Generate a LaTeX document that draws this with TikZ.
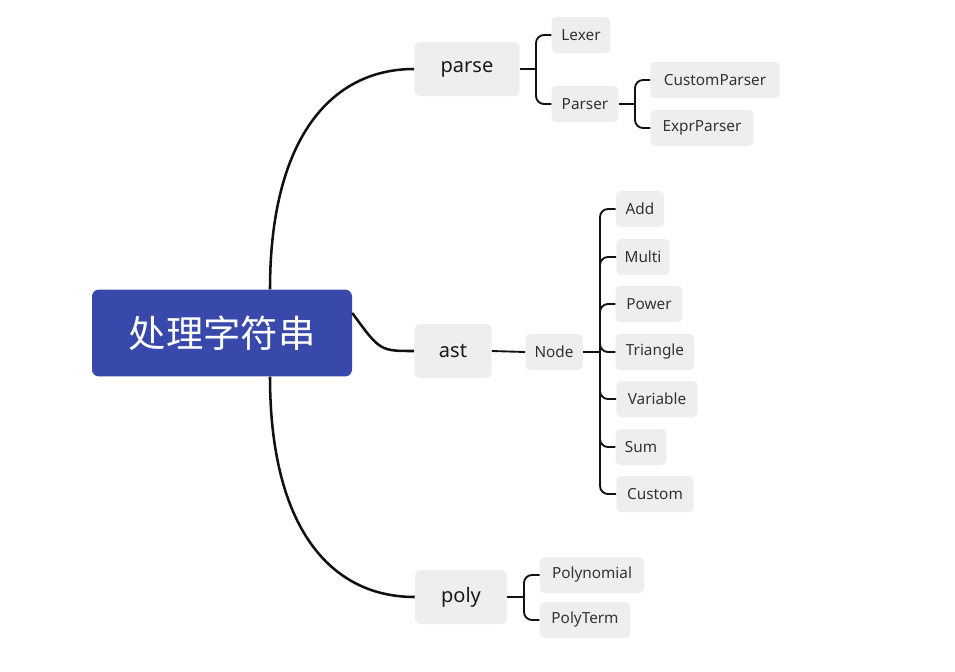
\documentclass[tikz,border=0pt]{standalone}
\usepackage{fontspec}
\setmainfont{Noto Sans}
\newfontfamily\cjk{Noto Sans CJK SC}
\usetikzlibrary{positioning}
\definecolor{rootblue}{RGB}{57,73,171}
\definecolor{leafgray}{RGB}{238,238,238}
\definecolor{linegray}{RGB}{17,17,17}
\tikzset{
  topic/.style={fill=leafgray, rounded corners=4pt, inner sep=0pt,
    minimum height=40.5pt, font=\fontsize{15}{17}\selectfont, text=black!90},
  leaf/.style={fill=leafgray, rounded corners=3.5pt, inner sep=0pt,
    minimum height=27pt, font=\fontsize{11.5}{13}\selectfont, text=black!80},
  branch/.style={draw=linegray, line width=1.9pt},
  twig/.style={draw=linegray, line width=1.4pt, rounded corners=6pt}
}
\begin{document}
\begin{tikzpicture}[x=0.75pt,y=-0.75pt]
    \useasboundingbox (0,0) rectangle (955,671);
    % root
    \node[fill=rootblue, rounded corners=5pt, minimum width=195pt,
          minimum height=65pt, text=white,
          font=\cjk\fontsize{28}{30}\selectfont] (root) at (222,333) {处理字符串};
    % main topics
    \node[topic, minimum width=79pt] (parse) at (467,69) {parse};
    \node[topic, minimum width=58pt] (ast) at (453,351) {ast};
    \node[topic, minimum width=69pt] (poly) at (461,597) {poly};
    % parse children
    \node[leaf, minimum width=44pt] (lexer) at (581,35) {Lexer};
    \node[leaf, minimum width=50pt] (parser) at (585,104) {Parser};
    \node[leaf, minimum width=97pt] (custparser) at (715,80) {CustomParser};
    \node[leaf, minimum width=77pt] (exprparser) at (702,128) {ExprParser};
    % ast children
    \node[leaf, minimum width=43pt] (node) at (554,352) {Node};
    \node[leaf, minimum width=36pt] (add) at (640,209) {Add};
    \node[leaf, minimum width=40pt] (multi) at (643,257) {Multi};
    \node[leaf, minimum width=50pt] (power) at (649,304) {Power};
    \node[leaf, minimum width=59pt] (triangle) at (655,352) {Triangle};
    \node[leaf, minimum width=61pt] (variable) at (657,399) {Variable};
    \node[leaf, minimum width=38pt] (sum) at (641,447) {Sum};
    \node[leaf, minimum width=58pt] (custom) at (655,494) {Custom};
    % poly children
    \node[leaf, minimum width=78pt] (polynomial) at (592,575) {Polynomial};
    \node[leaf, minimum width=68pt] (polyterm) at (585,620) {PolyTerm};

    % fork points
    \coordinate (fparse) at (536,69);
    \coordinate (fparser) at (635,104);
    \coordinate (fnode) at (600,352);
    \coordinate (fpoly) at (524,597);

    % main branches
    \draw[branch] ([xshift=36]root.north) .. controls (270,140) and (330,69) .. (parse.west);
    \draw[branch] ([yshift=15]root.east) .. controls (380,351) .. (ast.west);
    \draw[branch] ([xshift=36]root.south) .. controls (270,527) and (330,597) .. (poly.west);

    % twigs
    \draw[twig] (parse.east) -- (fparse);
    \foreach \c in {lexer,parser} \draw[twig] (fparse) |- (\c.west);
    \draw[twig] (parser.east) -- (fparser);
    \foreach \c in {custparser,exprparser} \draw[twig] (fparser) |- (\c.west);
    \draw[twig] (ast.east) -- (node.west);
    \draw[twig] (node.east) -- (fnode);
    \foreach \c in {add,multi,power,triangle,variable,sum,custom}
      \draw[twig] (fnode) |- (\c.west);
    \draw[twig] (poly.east) -- (fpoly);
    \foreach \c in {polynomial,polyterm} \draw[twig] (fpoly) |- (\c.west);
\end{tikzpicture}
\end{document}
